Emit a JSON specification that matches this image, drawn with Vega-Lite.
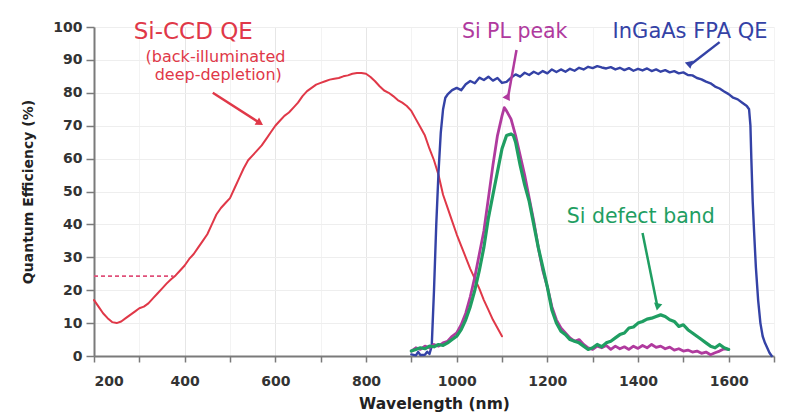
{
  "$schema": "https://vega.github.io/schema/vega-lite/v6.json",
  "width": 680,
  "height": 329,
  "autosize": {"type": "none"},
  "padding": {"left": 94, "top": 27, "right": 14, "bottom": 56},
  "background": "#ffffff",
  "config": {
    "view": {"stroke": null},
    "axis": {
      "domainColor": "#7a7a7a",
      "domainWidth": 2,
      "tickColor": "#7a7a7a",
      "tickWidth": 1.5,
      "labelColor": "#333333",
      "labelFont": "DejaVu Sans",
      "labelFontWeight": "bold",
      "labelFontSize": 14,
      "labelOverlap": false,
      "titleFont": "DejaVu Sans",
      "titleFontWeight": "bold",
      "titleColor": "#222222",
      "gridColor": "#ececec",
      "gridWidth": 1
    }
  },
  "datasets": {
    "curves": [
      {"series": "Si-CCD QE", "wl": 200, "qe": 17},
      {"series": "Si-CCD QE", "wl": 210, "qe": 15},
      {"series": "Si-CCD QE", "wl": 220, "qe": 13},
      {"series": "Si-CCD QE", "wl": 230, "qe": 11.5},
      {"series": "Si-CCD QE", "wl": 240, "qe": 10.3},
      {"series": "Si-CCD QE", "wl": 250, "qe": 10},
      {"series": "Si-CCD QE", "wl": 260, "qe": 10.5},
      {"series": "Si-CCD QE", "wl": 270, "qe": 11.5},
      {"series": "Si-CCD QE", "wl": 280, "qe": 12.5},
      {"series": "Si-CCD QE", "wl": 290, "qe": 13.5},
      {"series": "Si-CCD QE", "wl": 300, "qe": 14.5},
      {"series": "Si-CCD QE", "wl": 310, "qe": 15},
      {"series": "Si-CCD QE", "wl": 320, "qe": 16},
      {"series": "Si-CCD QE", "wl": 330, "qe": 17.5},
      {"series": "Si-CCD QE", "wl": 340, "qe": 19},
      {"series": "Si-CCD QE", "wl": 350, "qe": 20.5},
      {"series": "Si-CCD QE", "wl": 360, "qe": 22},
      {"series": "Si-CCD QE", "wl": 370, "qe": 23.3},
      {"series": "Si-CCD QE", "wl": 380, "qe": 24.5},
      {"series": "Si-CCD QE", "wl": 390, "qe": 26},
      {"series": "Si-CCD QE", "wl": 400, "qe": 27.5},
      {"series": "Si-CCD QE", "wl": 410, "qe": 29.5},
      {"series": "Si-CCD QE", "wl": 420, "qe": 31},
      {"series": "Si-CCD QE", "wl": 430, "qe": 33},
      {"series": "Si-CCD QE", "wl": 440, "qe": 35},
      {"series": "Si-CCD QE", "wl": 450, "qe": 37},
      {"series": "Si-CCD QE", "wl": 460, "qe": 40},
      {"series": "Si-CCD QE", "wl": 470, "qe": 43},
      {"series": "Si-CCD QE", "wl": 480, "qe": 45},
      {"series": "Si-CCD QE", "wl": 490, "qe": 46.5},
      {"series": "Si-CCD QE", "wl": 500, "qe": 48},
      {"series": "Si-CCD QE", "wl": 510, "qe": 51},
      {"series": "Si-CCD QE", "wl": 520, "qe": 54},
      {"series": "Si-CCD QE", "wl": 530, "qe": 57},
      {"series": "Si-CCD QE", "wl": 540, "qe": 59.5},
      {"series": "Si-CCD QE", "wl": 550, "qe": 61},
      {"series": "Si-CCD QE", "wl": 560, "qe": 62.5},
      {"series": "Si-CCD QE", "wl": 570, "qe": 64},
      {"series": "Si-CCD QE", "wl": 580, "qe": 66},
      {"series": "Si-CCD QE", "wl": 590, "qe": 68},
      {"series": "Si-CCD QE", "wl": 600, "qe": 70},
      {"series": "Si-CCD QE", "wl": 610, "qe": 71.5},
      {"series": "Si-CCD QE", "wl": 620, "qe": 73},
      {"series": "Si-CCD QE", "wl": 630, "qe": 74},
      {"series": "Si-CCD QE", "wl": 640, "qe": 75.5},
      {"series": "Si-CCD QE", "wl": 650, "qe": 77},
      {"series": "Si-CCD QE", "wl": 660, "qe": 79},
      {"series": "Si-CCD QE", "wl": 670, "qe": 80.5},
      {"series": "Si-CCD QE", "wl": 680, "qe": 81.5},
      {"series": "Si-CCD QE", "wl": 690, "qe": 82.5},
      {"series": "Si-CCD QE", "wl": 700, "qe": 83},
      {"series": "Si-CCD QE", "wl": 710, "qe": 83.5},
      {"series": "Si-CCD QE", "wl": 720, "qe": 84},
      {"series": "Si-CCD QE", "wl": 730, "qe": 84.3},
      {"series": "Si-CCD QE", "wl": 740, "qe": 84.5},
      {"series": "Si-CCD QE", "wl": 750, "qe": 85},
      {"series": "Si-CCD QE", "wl": 760, "qe": 85.3},
      {"series": "Si-CCD QE", "wl": 770, "qe": 85.8},
      {"series": "Si-CCD QE", "wl": 780, "qe": 86},
      {"series": "Si-CCD QE", "wl": 790, "qe": 86},
      {"series": "Si-CCD QE", "wl": 800, "qe": 85.8},
      {"series": "Si-CCD QE", "wl": 810, "qe": 84.8},
      {"series": "Si-CCD QE", "wl": 820, "qe": 83.5},
      {"series": "Si-CCD QE", "wl": 830, "qe": 82},
      {"series": "Si-CCD QE", "wl": 840, "qe": 80.7},
      {"series": "Si-CCD QE", "wl": 850, "qe": 80},
      {"series": "Si-CCD QE", "wl": 860, "qe": 79},
      {"series": "Si-CCD QE", "wl": 870, "qe": 77.8},
      {"series": "Si-CCD QE", "wl": 880, "qe": 77},
      {"series": "Si-CCD QE", "wl": 890, "qe": 76},
      {"series": "Si-CCD QE", "wl": 900, "qe": 74.5},
      {"series": "Si-CCD QE", "wl": 910, "qe": 72},
      {"series": "Si-CCD QE", "wl": 920, "qe": 69.5},
      {"series": "Si-CCD QE", "wl": 930, "qe": 67},
      {"series": "Si-CCD QE", "wl": 940, "qe": 63},
      {"series": "Si-CCD QE", "wl": 950, "qe": 59.5},
      {"series": "Si-CCD QE", "wl": 960, "qe": 55},
      {"series": "Si-CCD QE", "wl": 970, "qe": 49},
      {"series": "Si-CCD QE", "wl": 980, "qe": 45},
      {"series": "Si-CCD QE", "wl": 990, "qe": 41},
      {"series": "Si-CCD QE", "wl": 1000, "qe": 37},
      {"series": "Si-CCD QE", "wl": 1010, "qe": 33.5},
      {"series": "Si-CCD QE", "wl": 1020, "qe": 30},
      {"series": "Si-CCD QE", "wl": 1030, "qe": 26.5},
      {"series": "Si-CCD QE", "wl": 1040, "qe": 23.5},
      {"series": "Si-CCD QE", "wl": 1050, "qe": 20.5},
      {"series": "Si-CCD QE", "wl": 1060, "qe": 17},
      {"series": "Si-CCD QE", "wl": 1070, "qe": 14},
      {"series": "Si-CCD QE", "wl": 1080, "qe": 11},
      {"series": "Si-CCD QE", "wl": 1090, "qe": 8.5},
      {"series": "Si-CCD QE", "wl": 1100, "qe": 6},

      {"series": "InGaAs FPA QE", "wl": 900, "qe": 0.5},
      {"series": "InGaAs FPA QE", "wl": 910, "qe": 0.2},
      {"series": "InGaAs FPA QE", "wl": 915, "qe": 1.2},
      {"series": "InGaAs FPA QE", "wl": 920, "qe": 0.3},
      {"series": "InGaAs FPA QE", "wl": 930, "qe": 0.4},
      {"series": "InGaAs FPA QE", "wl": 935, "qe": 1.3},
      {"series": "InGaAs FPA QE", "wl": 940, "qe": 0.6},
      {"series": "InGaAs FPA QE", "wl": 945, "qe": 3},
      {"series": "InGaAs FPA QE", "wl": 950, "qe": 20},
      {"series": "InGaAs FPA QE", "wl": 955, "qe": 40},
      {"series": "InGaAs FPA QE", "wl": 960, "qe": 56},
      {"series": "InGaAs FPA QE", "wl": 965, "qe": 68},
      {"series": "InGaAs FPA QE", "wl": 970, "qe": 75},
      {"series": "InGaAs FPA QE", "wl": 975, "qe": 78.5},
      {"series": "InGaAs FPA QE", "wl": 980, "qe": 79.5},
      {"series": "InGaAs FPA QE", "wl": 990, "qe": 80.8},
      {"series": "InGaAs FPA QE", "wl": 1000, "qe": 81.5},
      {"series": "InGaAs FPA QE", "wl": 1010, "qe": 80.8},
      {"series": "InGaAs FPA QE", "wl": 1020, "qe": 82.6},
      {"series": "InGaAs FPA QE", "wl": 1030, "qe": 83.6},
      {"series": "InGaAs FPA QE", "wl": 1040, "qe": 82.9},
      {"series": "InGaAs FPA QE", "wl": 1050, "qe": 84.6},
      {"series": "InGaAs FPA QE", "wl": 1060, "qe": 83.9},
      {"series": "InGaAs FPA QE", "wl": 1070, "qe": 84.9},
      {"series": "InGaAs FPA QE", "wl": 1080, "qe": 83.7},
      {"series": "InGaAs FPA QE", "wl": 1090, "qe": 84.5},
      {"series": "InGaAs FPA QE", "wl": 1100, "qe": 83},
      {"series": "InGaAs FPA QE", "wl": 1110, "qe": 83.3},
      {"series": "InGaAs FPA QE", "wl": 1120, "qe": 84.6},
      {"series": "InGaAs FPA QE", "wl": 1130, "qe": 85.6},
      {"series": "InGaAs FPA QE", "wl": 1140, "qe": 84.9},
      {"series": "InGaAs FPA QE", "wl": 1150, "qe": 86.1},
      {"series": "InGaAs FPA QE", "wl": 1160, "qe": 85.4},
      {"series": "InGaAs FPA QE", "wl": 1170, "qe": 86.4},
      {"series": "InGaAs FPA QE", "wl": 1180, "qe": 85.7},
      {"series": "InGaAs FPA QE", "wl": 1190, "qe": 86.6},
      {"series": "InGaAs FPA QE", "wl": 1200, "qe": 85.9},
      {"series": "InGaAs FPA QE", "wl": 1210, "qe": 87.1},
      {"series": "InGaAs FPA QE", "wl": 1220, "qe": 86.3},
      {"series": "InGaAs FPA QE", "wl": 1230, "qe": 87.1},
      {"series": "InGaAs FPA QE", "wl": 1240, "qe": 86.4},
      {"series": "InGaAs FPA QE", "wl": 1250, "qe": 87.3},
      {"series": "InGaAs FPA QE", "wl": 1260, "qe": 86.7},
      {"series": "InGaAs FPA QE", "wl": 1270, "qe": 87.6},
      {"series": "InGaAs FPA QE", "wl": 1280, "qe": 87.1},
      {"series": "InGaAs FPA QE", "wl": 1290, "qe": 87.9},
      {"series": "InGaAs FPA QE", "wl": 1300, "qe": 87.5},
      {"series": "InGaAs FPA QE", "wl": 1310, "qe": 88.1},
      {"series": "InGaAs FPA QE", "wl": 1320, "qe": 87.7},
      {"series": "InGaAs FPA QE", "wl": 1330, "qe": 87.4},
      {"series": "InGaAs FPA QE", "wl": 1340, "qe": 87.8},
      {"series": "InGaAs FPA QE", "wl": 1350, "qe": 87.1},
      {"series": "InGaAs FPA QE", "wl": 1360, "qe": 87.6},
      {"series": "InGaAs FPA QE", "wl": 1370, "qe": 86.9},
      {"series": "InGaAs FPA QE", "wl": 1380, "qe": 87.5},
      {"series": "InGaAs FPA QE", "wl": 1390, "qe": 86.7},
      {"series": "InGaAs FPA QE", "wl": 1400, "qe": 87.3},
      {"series": "InGaAs FPA QE", "wl": 1410, "qe": 86.8},
      {"series": "InGaAs FPA QE", "wl": 1420, "qe": 87.4},
      {"series": "InGaAs FPA QE", "wl": 1430, "qe": 86.6},
      {"series": "InGaAs FPA QE", "wl": 1440, "qe": 87.1},
      {"series": "InGaAs FPA QE", "wl": 1450, "qe": 86.4},
      {"series": "InGaAs FPA QE", "wl": 1460, "qe": 86.9},
      {"series": "InGaAs FPA QE", "wl": 1470, "qe": 86.2},
      {"series": "InGaAs FPA QE", "wl": 1480, "qe": 86.6},
      {"series": "InGaAs FPA QE", "wl": 1490, "qe": 85.9},
      {"series": "InGaAs FPA QE", "wl": 1500, "qe": 86.2},
      {"series": "InGaAs FPA QE", "wl": 1510, "qe": 85.4},
      {"series": "InGaAs FPA QE", "wl": 1520, "qe": 85.3},
      {"series": "InGaAs FPA QE", "wl": 1530, "qe": 84.5},
      {"series": "InGaAs FPA QE", "wl": 1540, "qe": 84.1},
      {"series": "InGaAs FPA QE", "wl": 1550, "qe": 83.4},
      {"series": "InGaAs FPA QE", "wl": 1560, "qe": 82.9},
      {"series": "InGaAs FPA QE", "wl": 1570, "qe": 81.9},
      {"series": "InGaAs FPA QE", "wl": 1580, "qe": 81.3},
      {"series": "InGaAs FPA QE", "wl": 1590, "qe": 80.4},
      {"series": "InGaAs FPA QE", "wl": 1600, "qe": 79.6},
      {"series": "InGaAs FPA QE", "wl": 1610, "qe": 78.5},
      {"series": "InGaAs FPA QE", "wl": 1620, "qe": 78},
      {"series": "InGaAs FPA QE", "wl": 1630, "qe": 77},
      {"series": "InGaAs FPA QE", "wl": 1640, "qe": 76},
      {"series": "InGaAs FPA QE", "wl": 1645, "qe": 75},
      {"series": "InGaAs FPA QE", "wl": 1648, "qe": 70},
      {"series": "InGaAs FPA QE", "wl": 1650, "qe": 60},
      {"series": "InGaAs FPA QE", "wl": 1653, "qe": 47},
      {"series": "InGaAs FPA QE", "wl": 1656, "qe": 38},
      {"series": "InGaAs FPA QE", "wl": 1660, "qe": 27},
      {"series": "InGaAs FPA QE", "wl": 1665, "qe": 17},
      {"series": "InGaAs FPA QE", "wl": 1670, "qe": 10},
      {"series": "InGaAs FPA QE", "wl": 1675, "qe": 6},
      {"series": "InGaAs FPA QE", "wl": 1680, "qe": 4},
      {"series": "InGaAs FPA QE", "wl": 1690, "qe": 1},
      {"series": "InGaAs FPA QE", "wl": 1695, "qe": 0},

      {"series": "Si PL peak", "wl": 900, "qe": 1.5},
      {"series": "Si PL peak", "wl": 910, "qe": 2.5},
      {"series": "Si PL peak", "wl": 920, "qe": 2},
      {"series": "Si PL peak", "wl": 930, "qe": 3},
      {"series": "Si PL peak", "wl": 940, "qe": 2.5},
      {"series": "Si PL peak", "wl": 950, "qe": 3.5},
      {"series": "Si PL peak", "wl": 960, "qe": 3},
      {"series": "Si PL peak", "wl": 970, "qe": 4},
      {"series": "Si PL peak", "wl": 980, "qe": 4.5},
      {"series": "Si PL peak", "wl": 990, "qe": 6},
      {"series": "Si PL peak", "wl": 1000, "qe": 7},
      {"series": "Si PL peak", "wl": 1010, "qe": 9.5},
      {"series": "Si PL peak", "wl": 1020, "qe": 13},
      {"series": "Si PL peak", "wl": 1030, "qe": 18},
      {"series": "Si PL peak", "wl": 1040, "qe": 24},
      {"series": "Si PL peak", "wl": 1050, "qe": 31},
      {"series": "Si PL peak", "wl": 1060, "qe": 38},
      {"series": "Si PL peak", "wl": 1070, "qe": 48},
      {"series": "Si PL peak", "wl": 1080, "qe": 58},
      {"series": "Si PL peak", "wl": 1090, "qe": 67},
      {"series": "Si PL peak", "wl": 1100, "qe": 73},
      {"series": "Si PL peak", "wl": 1105, "qe": 75.5},
      {"series": "Si PL peak", "wl": 1110, "qe": 74.5},
      {"series": "Si PL peak", "wl": 1120, "qe": 72},
      {"series": "Si PL peak", "wl": 1130, "qe": 67},
      {"series": "Si PL peak", "wl": 1140, "qe": 61},
      {"series": "Si PL peak", "wl": 1150, "qe": 55},
      {"series": "Si PL peak", "wl": 1160, "qe": 48},
      {"series": "Si PL peak", "wl": 1170, "qe": 41},
      {"series": "Si PL peak", "wl": 1180, "qe": 33},
      {"series": "Si PL peak", "wl": 1190, "qe": 26},
      {"series": "Si PL peak", "wl": 1200, "qe": 21},
      {"series": "Si PL peak", "wl": 1210, "qe": 15},
      {"series": "Si PL peak", "wl": 1220, "qe": 11},
      {"series": "Si PL peak", "wl": 1230, "qe": 8.5},
      {"series": "Si PL peak", "wl": 1240, "qe": 7},
      {"series": "Si PL peak", "wl": 1250, "qe": 5.5},
      {"series": "Si PL peak", "wl": 1260, "qe": 4.5},
      {"series": "Si PL peak", "wl": 1270, "qe": 5},
      {"series": "Si PL peak", "wl": 1280, "qe": 3.5},
      {"series": "Si PL peak", "wl": 1290, "qe": 2.5},
      {"series": "Si PL peak", "wl": 1300, "qe": 2},
      {"series": "Si PL peak", "wl": 1310, "qe": 3},
      {"series": "Si PL peak", "wl": 1320, "qe": 2.5},
      {"series": "Si PL peak", "wl": 1330, "qe": 3.2},
      {"series": "Si PL peak", "wl": 1340, "qe": 2},
      {"series": "Si PL peak", "wl": 1350, "qe": 3},
      {"series": "Si PL peak", "wl": 1360, "qe": 2.2},
      {"series": "Si PL peak", "wl": 1370, "qe": 2.8},
      {"series": "Si PL peak", "wl": 1380, "qe": 2},
      {"series": "Si PL peak", "wl": 1390, "qe": 3},
      {"series": "Si PL peak", "wl": 1400, "qe": 2.3},
      {"series": "Si PL peak", "wl": 1410, "qe": 3.2},
      {"series": "Si PL peak", "wl": 1420, "qe": 2.5},
      {"series": "Si PL peak", "wl": 1430, "qe": 3.5},
      {"series": "Si PL peak", "wl": 1440, "qe": 2.6},
      {"series": "Si PL peak", "wl": 1450, "qe": 3},
      {"series": "Si PL peak", "wl": 1460, "qe": 2.2},
      {"series": "Si PL peak", "wl": 1470, "qe": 2.7},
      {"series": "Si PL peak", "wl": 1480, "qe": 1.8},
      {"series": "Si PL peak", "wl": 1490, "qe": 2.2},
      {"series": "Si PL peak", "wl": 1500, "qe": 1.5},
      {"series": "Si PL peak", "wl": 1510, "qe": 1.8},
      {"series": "Si PL peak", "wl": 1520, "qe": 1.2},
      {"series": "Si PL peak", "wl": 1530, "qe": 1.5},
      {"series": "Si PL peak", "wl": 1540, "qe": 0.8},
      {"series": "Si PL peak", "wl": 1550, "qe": 1.2},
      {"series": "Si PL peak", "wl": 1560, "qe": 0.4},
      {"series": "Si PL peak", "wl": 1570, "qe": 1},
      {"series": "Si PL peak", "wl": 1580, "qe": 1.5},
      {"series": "Si PL peak", "wl": 1590, "qe": 2.2},
      {"series": "Si PL peak", "wl": 1600, "qe": 2},

      {"series": "Si defect band", "wl": 900, "qe": 1.5},
      {"series": "Si defect band", "wl": 910, "qe": 2},
      {"series": "Si defect band", "wl": 920, "qe": 2.5},
      {"series": "Si defect band", "wl": 930, "qe": 2.2},
      {"series": "Si defect band", "wl": 940, "qe": 3},
      {"series": "Si defect band", "wl": 950, "qe": 2.8},
      {"series": "Si defect band", "wl": 960, "qe": 3.5},
      {"series": "Si defect band", "wl": 970, "qe": 3.2},
      {"series": "Si defect band", "wl": 980, "qe": 4},
      {"series": "Si defect band", "wl": 990, "qe": 5},
      {"series": "Si defect band", "wl": 1000, "qe": 6},
      {"series": "Si defect band", "wl": 1010, "qe": 8},
      {"series": "Si defect band", "wl": 1020, "qe": 11},
      {"series": "Si defect band", "wl": 1030, "qe": 15},
      {"series": "Si defect band", "wl": 1040, "qe": 20},
      {"series": "Si defect band", "wl": 1050, "qe": 26},
      {"series": "Si defect band", "wl": 1060, "qe": 33},
      {"series": "Si defect band", "wl": 1070, "qe": 42},
      {"series": "Si defect band", "wl": 1080, "qe": 49},
      {"series": "Si defect band", "wl": 1090, "qe": 56},
      {"series": "Si defect band", "wl": 1100, "qe": 63},
      {"series": "Si defect band", "wl": 1110, "qe": 67},
      {"series": "Si defect band", "wl": 1120, "qe": 67.5},
      {"series": "Si defect band", "wl": 1125, "qe": 67},
      {"series": "Si defect band", "wl": 1130, "qe": 65},
      {"series": "Si defect band", "wl": 1140, "qe": 58},
      {"series": "Si defect band", "wl": 1150, "qe": 52},
      {"series": "Si defect band", "wl": 1160, "qe": 47},
      {"series": "Si defect band", "wl": 1170, "qe": 40},
      {"series": "Si defect band", "wl": 1180, "qe": 33},
      {"series": "Si defect band", "wl": 1190, "qe": 27},
      {"series": "Si defect band", "wl": 1200, "qe": 21},
      {"series": "Si defect band", "wl": 1210, "qe": 14},
      {"series": "Si defect band", "wl": 1220, "qe": 10},
      {"series": "Si defect band", "wl": 1230, "qe": 7.5},
      {"series": "Si defect band", "wl": 1240, "qe": 6.5},
      {"series": "Si defect band", "wl": 1250, "qe": 5},
      {"series": "Si defect band", "wl": 1260, "qe": 4.5},
      {"series": "Si defect band", "wl": 1270, "qe": 4},
      {"series": "Si defect band", "wl": 1280, "qe": 3},
      {"series": "Si defect band", "wl": 1290, "qe": 2},
      {"series": "Si defect band", "wl": 1300, "qe": 2.5},
      {"series": "Si defect band", "wl": 1310, "qe": 3.5},
      {"series": "Si defect band", "wl": 1320, "qe": 2.8},
      {"series": "Si defect band", "wl": 1330, "qe": 4},
      {"series": "Si defect band", "wl": 1340, "qe": 4.5},
      {"series": "Si defect band", "wl": 1350, "qe": 5.5},
      {"series": "Si defect band", "wl": 1360, "qe": 6.5},
      {"series": "Si defect band", "wl": 1370, "qe": 7},
      {"series": "Si defect band", "wl": 1380, "qe": 8.5},
      {"series": "Si defect band", "wl": 1390, "qe": 8.8},
      {"series": "Si defect band", "wl": 1400, "qe": 10},
      {"series": "Si defect band", "wl": 1410, "qe": 10.5},
      {"series": "Si defect band", "wl": 1420, "qe": 11.2},
      {"series": "Si defect band", "wl": 1430, "qe": 11.5},
      {"series": "Si defect band", "wl": 1440, "qe": 12},
      {"series": "Si defect band", "wl": 1450, "qe": 12.5},
      {"series": "Si defect band", "wl": 1460, "qe": 12},
      {"series": "Si defect band", "wl": 1470, "qe": 11},
      {"series": "Si defect band", "wl": 1480, "qe": 10.5},
      {"series": "Si defect band", "wl": 1490, "qe": 9},
      {"series": "Si defect band", "wl": 1500, "qe": 9.5},
      {"series": "Si defect band", "wl": 1510, "qe": 8},
      {"series": "Si defect band", "wl": 1520, "qe": 7},
      {"series": "Si defect band", "wl": 1530, "qe": 6},
      {"series": "Si defect band", "wl": 1540, "qe": 5},
      {"series": "Si defect band", "wl": 1550, "qe": 4},
      {"series": "Si defect band", "wl": 1560, "qe": 3},
      {"series": "Si defect band", "wl": 1570, "qe": 2.5},
      {"series": "Si defect band", "wl": 1580, "qe": 3.5},
      {"series": "Si defect band", "wl": 1590, "qe": 2.5},
      {"series": "Si defect band", "wl": 1600, "qe": 2}
    ],
    "ref": [
      {"wl": 200, "qe": 24.3},
      {"wl": 375, "qe": 24.3}
    ],
    "arrows": [
      {"series": "Si-CCD QE", "x1": 462, "y1": 80, "x2": 566, "y2": 70.8, "dir": "a"},
      {"series": "Si PL peak", "x1": 1132, "y1": 93, "x2": 1113, "y2": 78.4, "dir": "b"},
      {"series": "InGaAs FPA QE", "x1": 1580, "y1": 95.4, "x2": 1514, "y2": 88.4, "dir": "c"},
      {"series": "Si defect band", "x1": 1410, "y1": 37.4, "x2": 1443, "y2": 14.9, "dir": "d"}
    ],
    "big": [
      {"series": "Si-CCD QE", "wl": 419, "qe": 96.4, "text": "Si-CCD QE"}
    ],
    "small": [
      {"series": "Si-CCD QE", "wl": 468, "qe": 89.5, "text": "(back-illuminated"},
      {"series": "Si-CCD QE", "wl": 474, "qe": 83.8, "text": "deep-depletion)"}
    ],
    "mid": [
      {"series": "Si PL peak", "wl": 1128, "qe": 96.7, "text": "Si PL peak"},
      {"series": "Si defect band", "wl": 1406, "qe": 40.4, "text": "Si defect band"}
    ],
    "left": [
      {"series": "InGaAs FPA QE", "wl": 1344, "qe": 96.7, "text": "InGaAs FPA QE"}
    ]
  },
  "encoding": {
    "y": {
      "type": "quantitative",
      "scale": {"domain": [0, 100], "nice": false},
      "axis": {
        "title": "Quantum Efficiency (%)",
        "titleFontSize": 14,
        "titlePadding": 17,
        "values": [0, 10, 20, 30, 40, 50, 60, 70, 80, 90, 100],
        "labelOverlap": false,
        "tickSize": 8,
        "labelPadding": 4,
        "gridColor": "#eeeeee"
      }
    }
  },
  "layer": [
    {
      "data": {"name": "curves"},
      "mark": {"type": "line", "strokeJoin": "round", "strokeCap": "round"},
      "encoding": {
        "x": {
          "field": "wl", "type": "quantitative",
          "scale": {"domain": [200, 1700], "nice": false, "zero": false},
          "axis": {
            "title": "Wavelength (nm)",
            "titleFontSize": 15.5,
            "titlePadding": 8,
            "values": [200, 300, 400, 500, 600, 700, 800, 900, 1000, 1100, 1200, 1300, 1400, 1500, 1600, 1700],
            "labelExpr": "(datum.value % 200 === 0 && datum.value <= 1600) ? datum.label : ''",
            "format": "d",
            "tickSize": 6,
            "labelPadding": 12,
            "gridColor": {"condition": {"test": "datum.value % 200 === 0", "value": "#e6e6e6"}, "value": "#f3f3f3"}
          }
        },
        "y": {"field": "qe"},
        "color": {
          "field": "series", "type": "nominal", "legend": null,
          "scale": {
            "domain": ["Si-CCD QE", "InGaAs FPA QE", "Si PL peak", "Si defect band"],
            "range": ["#e03848", "#3442a6", "#b03a9e", "#1f9e62"]
          }
        },
        "strokeWidth": {
          "field": "series", "type": "nominal", "legend": null,
          "scale": {
            "domain": ["Si-CCD QE", "InGaAs FPA QE", "Si PL peak", "Si defect band"],
            "range": [2, 3.2, 2.4, 2.6]
          }
        }
      }
    },
    {
      "data": {"name": "ref"},
      "mark": {"type": "line", "color": "#e0507a", "strokeWidth": 1.8, "strokeDash": [4, 3]},
      "encoding": {
        "x": {"field": "wl", "type": "quantitative"},
        "y": {"field": "qe"}
      }
    },
    {
      "data": {"name": "arrows"},
      "mark": {"type": "rule", "strokeWidth": 2.5},
      "encoding": {
        "x": {"field": "x1", "type": "quantitative"},
        "y": {"field": "y1"},
        "x2": {"field": "x2"},
        "y2": {"field": "y2"},
        "color": {"field": "series", "type": "nominal", "legend": null}
      }
    },
    {
      "data": {"name": "arrows"},
      "mark": {"type": "point", "shape": "triangle-right", "filled": true, "opacity": 1, "size": 70},
      "encoding": {
        "x": {"field": "x2", "type": "quantitative"},
        "y": {"field": "y2"},
        "color": {"field": "series", "type": "nominal", "legend": null},
        "angle": {
          "field": "dir", "type": "nominal", "legend": null,
          "scale": {"domain": ["a", "b", "c", "d"], "range": [32, 101, 142, 78]}
        }
      }
    },
    {
      "data": {"name": "big"},
      "mark": {"type": "text", "font": "DejaVu Sans", "fontSize": 23, "align": "center", "baseline": "alphabetic"},
      "encoding": {
        "x": {"field": "wl", "type": "quantitative"},
        "y": {"field": "qe"},
        "text": {"field": "text"},
        "color": {"field": "series", "type": "nominal", "legend": null}
      }
    },
    {
      "data": {"name": "small"},
      "mark": {"type": "text", "font": "DejaVu Sans", "fontSize": 16, "align": "center", "baseline": "alphabetic"},
      "encoding": {
        "x": {"field": "wl", "type": "quantitative"},
        "y": {"field": "qe"},
        "text": {"field": "text"},
        "color": {"field": "series", "type": "nominal", "legend": null}
      }
    },
    {
      "data": {"name": "mid"},
      "mark": {"type": "text", "font": "DejaVu Sans", "fontSize": 20.5, "align": "center", "baseline": "alphabetic"},
      "encoding": {
        "x": {"field": "wl", "type": "quantitative"},
        "y": {"field": "qe"},
        "text": {"field": "text"},
        "color": {"field": "series", "type": "nominal", "legend": null}
      }
    },
    {
      "data": {"name": "left"},
      "mark": {"type": "text", "font": "DejaVu Sans", "fontSize": 21, "align": "left", "baseline": "alphabetic"},
      "encoding": {
        "x": {"field": "wl", "type": "quantitative"},
        "y": {"field": "qe"},
        "text": {"field": "text"},
        "color": {"field": "series", "type": "nominal", "legend": null}
      }
    }
  ]
}
